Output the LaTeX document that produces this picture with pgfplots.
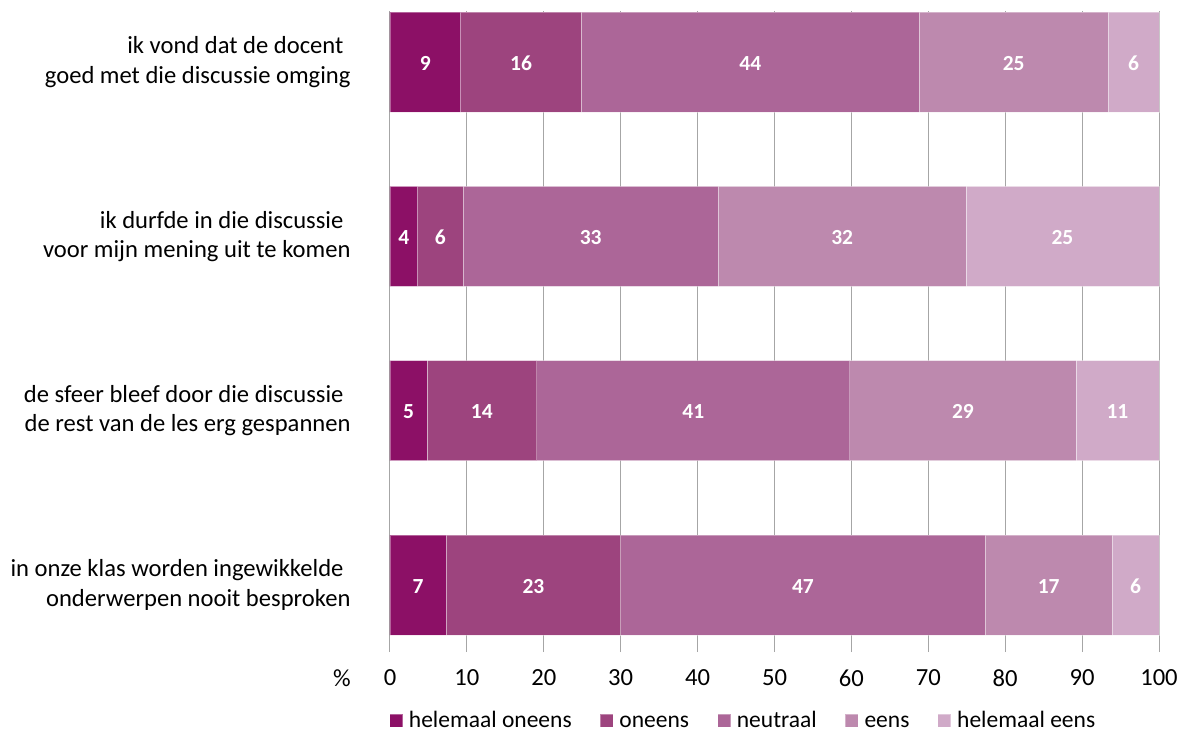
\documentclass[border=0pt]{standalone}
\usepackage{fontspec}
\setmainfont{Carlito}
\usepackage{pgfplots}
\pgfplotsset{compat=1.18}
\definecolor{c1}{HTML}{8C1066}
\definecolor{c2}{HTML}{9D447E}
\definecolor{c3}{HTML}{AC6698}
\definecolor{c4}{HTML}{BD89AE}
\definecolor{c5}{HTML}{D0AAC8}
\definecolor{gridc}{HTML}{A6A6A6}
\begin{document}
\begin{tikzpicture}
\path[use as bounding box] (-390pt,-79pt) rectangle (799pt,652pt);
\begin{axis}[
  at={(0pt,0pt)}, anchor=south west,
  scale only axis, width=769pt, height=641pt,
  clip=false,
  xbar stacked, bar width=100pt,
  xmin=0, xmax=100, ymin=0.616, ymax=4.293,
  xtick={0,10,...,100}, ytick={1,2,3,4},
  yticklabels={{in onze klas worden ingewikkelde\hspace*{7pt}\\onderwerpen nooit besproken},
               {de sfeer bleef door die discussie\hspace*{7pt}\\de rest van de les erg gespannen},
               {ik durfde in die discussie\hspace*{7pt}\\voor mijn mening uit te komen},
               {ik vond dat de docent\hspace*{7pt}\\goed met die discussie omging}},
  axis line style={draw=none},
  major tick length=0pt,
  xmajorgrids, major grid style={gridc, line width=1pt},
  tick label style={font=\fontsize{24.6}{29.5}\selectfont},
  /pgf/number format/assume math mode=true,
  yticklabel style={align=right, xshift=-36pt},
  xticklabel style={yshift=-14pt},
  point meta=explicit symbolic,
  nodes near coords,
  every node near coord/.append style={anchor=center, yshift=-1pt, text=white, font=\fontsize{21.5}{25}\selectfont\bfseries},
  legend columns=-1,
  legend style={at={(-0.0013,-0.1060)}, anchor=west, draw=none, fill=none, inner sep=0pt,
    nodes={inner sep=0pt}, cells={anchor=base west},
    font=\fontsize{23.5}{28}\selectfont,
    /tikz/every odd column/.append style={column sep=6pt},
    /tikz/every even column/.append style={column sep=28pt}},
  legend image code/.code={\fill[#1] (0pt,0pt) rectangle (13pt,13pt);},
]
\addplot[fill=c1, draw=white, draw opacity=0.35, line width=0.75pt] coordinates {(7.3,1) [7] (4.8,2) [5] (3.6,3) [4] (9.2,4) [9]};
\addplot[fill=c2, draw=white, draw opacity=0.35, line width=0.75pt] coordinates {(22.7,1) [23] (14.3,2) [14] (5.9,3) [6] (15.7,4) [16]};
\addplot[fill=c3, draw=white, draw opacity=0.35, line width=0.75pt] coordinates {(47.4,1) [47] (40.7,2) [41] (33.2,3) [33] (43.9,4) [44]};
\addplot[fill=c4, draw=white, draw opacity=0.35, line width=0.75pt] coordinates {(16.5,1) [17] (29.4,2) [29] (32.2,3) [32] (24.6,4) [25]};
\addplot[fill=c5, draw=white, draw opacity=0.35, line width=0.75pt] coordinates {(6.1,1) [6] (10.8,2) [11] (25.1,3) [25] (6.6,4) [6]};
\legend{helemaal oneens, oneens, neutraal, eens, helemaal eens}
\node[font=\fontsize{24.6}{29.5}\selectfont, anchor=north, inner sep=0.333em] at (rel axis cs:0,0) [xshift=-48pt, yshift=-14pt] {\%};
\end{axis}
\end{tikzpicture}
\end{document}
